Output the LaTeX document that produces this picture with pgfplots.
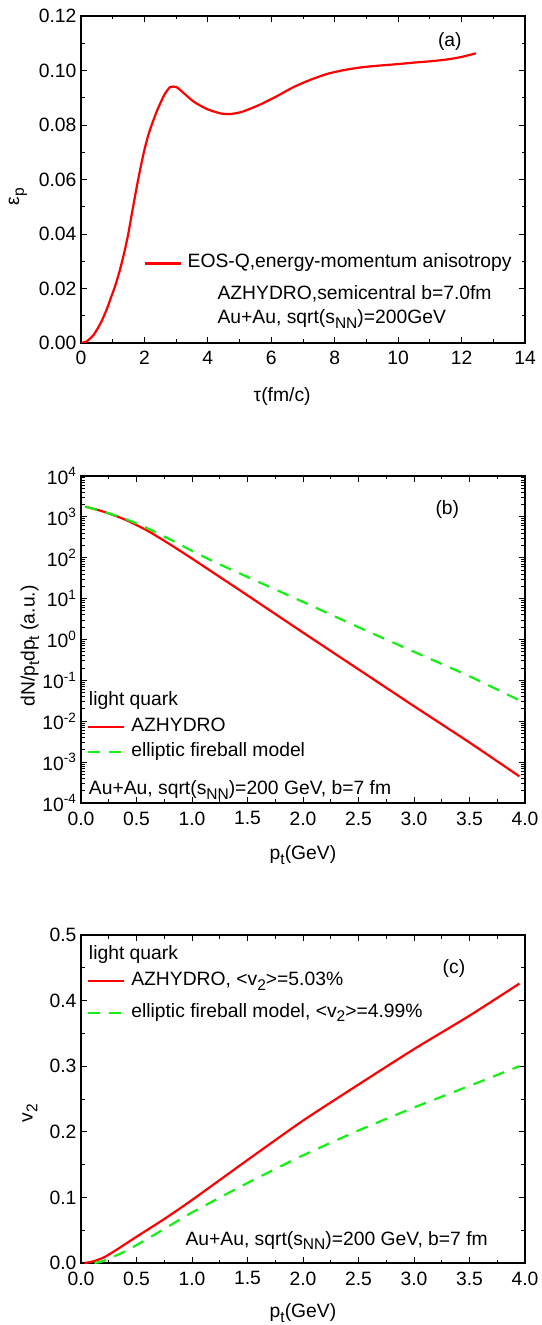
\documentclass[border=0pt]{standalone}
\usepackage{fontspec}
\setmainfont{Liberation Sans}
\usepackage{pgfplots}
\pgfplotsset{compat=1.18}
\definecolor{myred}{RGB}{255,0,0}
\definecolor{mygreen}{RGB}{20,240,20}
\newcommand\fs{\fontsize{19.3pt}{23pt}\selectfont}
\newcommand\sub[1]{\raisebox{-0.45ex}{\fontsize{15.5pt}{16pt}\selectfont #1}}
\pgfplotsset{
  myaxis/.style={
    scale only axis, width=444pt, height=327pt, anchor=south west,
    axis line style={line width=1.1pt, black},
    tick align=inside, major tick length=6pt, minor tick length=3.5pt,
    every tick/.style={black, line width=0.9pt},
    tick label style={font=\fs},
    xticklabel style={yshift=-5pt},
    yticklabel style={xshift=-1pt},
    label style={font=\fs},
    /pgf/number format/assume math mode=true,
    scaled x ticks=false, scaled y ticks=false,
    legend cell align=left,
    legend image code/.code={\draw[##1] (0pt,0pt) -- (36pt,0pt);},
    legend style={draw=none, fill=none, inner sep=0pt, outer sep=0pt, font=\fs,
      nodes={inner sep=0pt, text height=14pt, text depth=5pt},
      /tikz/every odd column/.append style={column sep=6pt}},
  },
  redline/.style={myred, line width=2.2pt},
  greenline/.style={mygreen, line width=2.2pt, dash pattern=on 12pt off 9pt},
}
\begin{document}
\begin{tikzpicture}
\useasboundingbox (0,0) rectangle (541pt,1325pt);
% ---------------- panel (a)
\begin{axis}[myaxis, at={(81pt,982pt)},
  xmin=0, xmax=14, ymin=0, ymax=0.12,
  xtick={0,2,4,6,8,10,12,14}, ytick={0,0.02,0.04,0.06,0.08,0.10,0.12},
  minor x tick num=1, minor y tick num=1,
  yticklabel style={/pgf/number format/.cd, fixed, fixed zerofill, precision=2},
  xlabel={τ(fm/c)}, ylabel={ε\sub{p}},
  xlabel style={at={(axis description cs:0.453,0)}, anchor=center, yshift=-54pt},
  ylabel style={at={(axis description cs:-0.142,0.448)}, anchor=center},
  legend style={at={(axis cs:1.97,0.0292)}, anchor=west},
]
\addplot[redline, smooth, tension=0.4] coordinates {
(0,0) (0.18,0.0006) (0.40,0.003) (0.62,0.0073) (0.80,0.0120) (0.94,0.0165) (1.08,0.0210) (1.22,0.0265)
(1.36,0.0330) (1.49,0.0400) (1.62,0.0485) (1.76,0.0574) (1.88,0.0645) (2.0,0.0709) (2.12,0.0762) (2.25,0.0807) (2.41,0.0856) (2.63,0.0911)
(2.81,0.0939) (3.01,0.0939) (3.22,0.0919) (3.55,0.0886) (3.98,0.0858) (4.42,0.0842)
(4.69,0.0840) (5.07,0.0848) (5.61,0.0873) (6.15,0.0904) (6.70,0.0939) (7.24,0.0966)
(7.78,0.0988) (8.32,0.1002) (8.87,0.1012) (9.41,0.1018) (9.95,0.1023) (10.5,0.1029)
(11.04,0.1034) (11.58,0.1041) (12.01,0.1050) (12.45,0.1063)};
\addlegendentry{EOS-Q,energy-momentum anisotropy}
\node[anchor=base west, font=\fs, inner sep=0pt] at (axis cs:4.30,0.0159) {AZHYDRO,semicentral b=7.0fm};
\node[anchor=base west, font=\fs, inner sep=0pt] at (axis cs:4.30,0.0071) {Au+Au, sqrt(s\sub{NN})=200GeV};
\node[anchor=center, font=\fs, inner sep=0pt] at (axis cs:11.63,0.1106) {(a)};
\end{axis}
% ---------------- panel (b)
\begin{axis}[myaxis, at={(81pt,522pt)},
  xmin=0, xmax=4, ymode=log, ymin=1e-4, ymax=1e4,
  xtick={0,0.5,1,1.5,2,2.5,3,3.5,4}, minor x tick num=1,
  xticklabel style={/pgf/number format/.cd, fixed, fixed zerofill, precision=1},
  ytick={1e-4,1e-3,1e-2,1e-1,1,1e1,1e2,1e3,1e4},
  yticklabels={10\textsuperscript{-4},10\textsuperscript{-3},10\textsuperscript{-2},10\textsuperscript{-1},10\textsuperscript{0},10\textsuperscript{1},10\textsuperscript{2},10\textsuperscript{3},10\textsuperscript{4}},
  minor ytick={2e-4,3e-4,4e-4,5e-4,6e-4,7e-4,8e-4,9e-4,
    2e-3,3e-3,4e-3,5e-3,6e-3,7e-3,8e-3,9e-3,
    2e-2,3e-2,4e-2,5e-2,6e-2,7e-2,8e-2,9e-2,
    2e-1,3e-1,4e-1,5e-1,6e-1,7e-1,8e-1,9e-1,
    2,3,4,5,6,7,8,9,20,30,40,50,60,70,80,90,
    200,300,400,500,600,700,800,900,2000,3000,4000,5000,6000,7000,8000,9000},
  xlabel={p\sub{t}(GeV)}, ylabel={dN/p\sub{t}dp\sub{t} (a.u.)},
  xlabel style={at={(axis description cs:0.5,0)}, anchor=center, yshift=-52pt},
  ylabel style={at={(axis description cs:-0.115,0.48)}, anchor=center},
  legend style={at={(axis cs:0.055,3.59e-3)}, anchor=west,
    row sep=6pt},
]
\addplot[redline, smooth, tension=0.4] coordinates {
(0.04,1778) (0.2,1349) (0.4,851) (0.6,457) (0.8,214) (1.0,95.5) (1.2,41.7)
(1.5,12.0) (2.0,1.48) (2.5,0.186) (3.0,0.0234) (3.5,0.00302) (3.95,0.000447)};
\addlegendentry{AZHYDRO}
\addplot[greenline, smooth, tension=0.4] coordinates {
(0.04,1778) (0.2,1349) (0.4,891) (0.6,525) (0.8,282) (1.0,148) (1.2,79.4)
(1.5,33.9) (2.0,8.32) (2.5,2.00) (3.0,0.501) (3.5,0.126) (3.95,0.0324)};
\addlegendentry{elliptic fireball model}
\node[anchor=base west, font=\fs, inner sep=0pt] at (axis cs:0.07,0.0245) {light quark};
\node[anchor=base west, font=\fs, inner sep=0pt] at (axis cs:0.07,1.62e-4) {Au+Au, sqrt(s\sub{NN})=200 GeV, b=7 fm};
\node[anchor=center, font=\fs, inner sep=0pt] at (axis cs:3.30,1528) {(b)};
\end{axis}
% ---------------- panel (c)
\begin{axis}[myaxis, at={(81pt,62pt)}, height=328pt,
  xmin=0, xmax=4, ymin=0, ymax=0.5,
  xtick={0,0.5,1,1.5,2,2.5,3,3.5,4}, minor x tick num=1,
  ytick={0,0.1,0.2,0.3,0.4,0.5}, minor y tick num=1,
  xticklabel style={/pgf/number format/.cd, fixed, fixed zerofill, precision=1},
  yticklabel style={/pgf/number format/.cd, fixed, fixed zerofill, precision=1},
  xlabel={p\sub{t}(GeV)}, ylabel={v\sub{2}},
  xlabel style={at={(axis description cs:0.5,0)}, anchor=center, yshift=-50pt},
  ylabel style={at={(axis description cs:-0.115,0.457)}, anchor=center},
  legend style={at={(axis cs:0.055,0.4056)}, anchor=west,
    row sep=12.7pt},
]
\addplot[redline, smooth, tension=0.4] coordinates {
(0.03,0.0) (0.1,0.002) (0.2,0.008) (0.3,0.018) (0.5,0.040) (0.75,0.067) (1.0,0.096)
(1.5,0.157) (2.0,0.217) (2.5,0.272) (3.0,0.326) (3.5,0.377) (3.95,0.426)};
\addlegendentry{AZHYDRO, <v\sub{2}>=5.03\%}
\addplot[greenline, smooth, tension=0.4] coordinates {
(0.12,0.0) (0.2,0.003) (0.4,0.018) (0.6,0.037) (0.8,0.057) (1.0,0.077) (1.5,0.122)
(2.0,0.164) (2.5,0.202) (3.0,0.237) (3.5,0.270) (3.95,0.300)};
\addlegendentry{elliptic fireball model, <v\sub{2}>=4.99\%}
\node[anchor=base west, font=\fs, inner sep=0pt] at (axis cs:0.07,0.462) {light quark};
\node[anchor=base west, font=\fs, inner sep=0pt] at (axis cs:0.94,0.0269) {Au+Au, sqrt(s\sub{NN})=200 GeV, b=7 fm};
\node[anchor=center, font=\fs, inner sep=0pt] at (axis cs:3.36,0.449) {(c)};
\end{axis}
\end{tikzpicture}
\end{document}
